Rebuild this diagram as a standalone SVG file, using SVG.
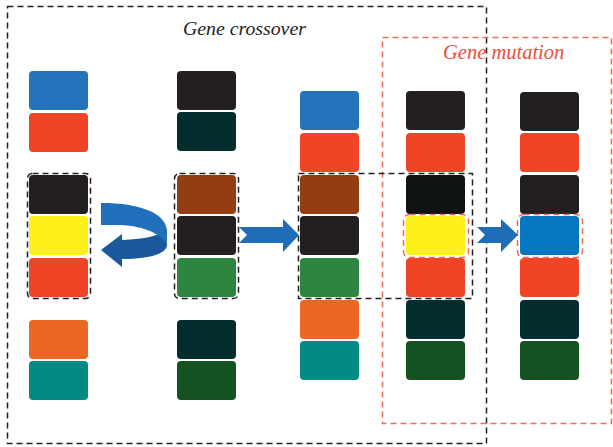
<svg xmlns="http://www.w3.org/2000/svg" width="613" height="447" viewBox="0 0 613 447">
<style>
.blk{fill:none;stroke:#231f20;stroke-width:1.5;stroke-dasharray:6,4}
.red{fill:none;stroke:#ef6b5c;stroke-width:1.5;stroke-dasharray:6,4}
.t{font-family:"Liberation Serif",serif;font-style:italic}
.arr{fill:#1e6db6}
</style>
<defs>
<rect id="b" width="59" height="39" rx="4"/>
</defs>
<rect width="613" height="447" fill="#fff"/>
<g id="crossover-frame">
<rect class="blk" x="7.5" y="6.5" width="479" height="437"/>
<text class="t" x="183" y="35" font-size="19.8" fill="#231f20">Gene crossover</text>
</g>
<g id="mutation-frame">
<rect class="red" x="382.5" y="37.5" width="229" height="386"/>
<text class="t" x="443" y="59" font-size="20.5" fill="#ef4d3b">Gene mutation</text>
</g>
<g id="col1">
<use href="#b" x="29" y="71" fill="#2474bb"/>
<use href="#b" x="29" y="113" fill="#f04426"/>
<use href="#b" x="29" y="175" fill="#231f20"/>
<use href="#b" x="29" y="216" fill="#fef01b"/>
<use href="#b" x="29" y="258" fill="#f04426"/>
<use href="#b" x="29" y="320" fill="#ea6823"/>
<use href="#b" x="29" y="361" fill="#048a85"/>
<rect class="blk" x="27.5" y="173.5" width="63" height="125" rx="5"/>
</g>
<g id="col2">
<use href="#b" x="177" y="71" fill="#231f20"/>
<use href="#b" x="177" y="112" fill="#032e2d"/>
<use href="#b" x="177" y="175" fill="#943d12"/>
<use href="#b" x="177" y="216" fill="#231f20"/>
<use href="#b" x="177" y="258" fill="#2d8540"/>
<use href="#b" x="177" y="320" fill="#032e2d"/>
<use href="#b" x="177" y="361" fill="#155221"/>
<rect class="blk" x="174.5" y="173.5" width="64" height="125" rx="5"/>
</g>
<g id="col3">
<use href="#b" x="300" y="91" fill="#2474bb"/>
<use href="#b" x="300" y="133" fill="#f04426"/>
<use href="#b" x="300" y="175" fill="#943d12"/>
<use href="#b" x="300" y="216" fill="#231f20"/>
<use href="#b" x="300" y="258" fill="#2d8540"/>
<use href="#b" x="300" y="300" fill="#ea6823"/>
<use href="#b" x="300" y="341" fill="#048a85"/>
</g>
<g id="col4">
<use href="#b" x="406" y="91" fill="#231f20"/>
<use href="#b" x="406" y="133" fill="#f04426"/>
<use href="#b" x="406" y="175" fill="#0f1313"/>
<use href="#b" x="406" y="216" fill="#fef01b"/>
<use href="#b" x="406" y="258" fill="#f04426"/>
<use href="#b" x="406" y="300" fill="#032e2d"/>
<use href="#b" x="406" y="341" fill="#155221"/>
<rect class="red" x="403.5" y="214.5" width="65" height="43" rx="6"/>
</g>
<g id="col5">
<use href="#b" x="520" y="92" fill="#231f20"/>
<use href="#b" x="520" y="133" fill="#f04426"/>
<use href="#b" x="520" y="175" fill="#231f20"/>
<use href="#b" x="520" y="216" fill="#0477c0"/>
<use href="#b" x="520" y="258" fill="#f04426"/>
<use href="#b" x="520" y="300" fill="#032e2d"/>
<use href="#b" x="520" y="341" fill="#155221"/>
<rect class="red" x="517.5" y="214.5" width="65" height="43" rx="6"/>
</g>
<g id="crossover-region">
<rect class="blk" x="298.5" y="173.5" width="174" height="125"/>
</g>
<g id="connectors">
<path fill="#1a5a9c" d="M167,229 C160,236 145,239 122,240 L122,234 L101,250 L122,267 L122,259 C148,259 167,254 167,245 Z"/>
<path fill="#2070bb" d="M101,203 C140,203 167,213 167,232 L167,246 C164,235 145,226 120,225 L101,225 Z"/>
<path class="arr" d="M239,227 L283,227 L283,219 L299,235 L283,252 L283,243 L239,243 L247,235 Z"/>
<path class="arr" d="M477,227 L501,227 L501,219 L518,235 L501,252 L501,243 L477,243 L485,235 Z"/>
</g>
</svg>
